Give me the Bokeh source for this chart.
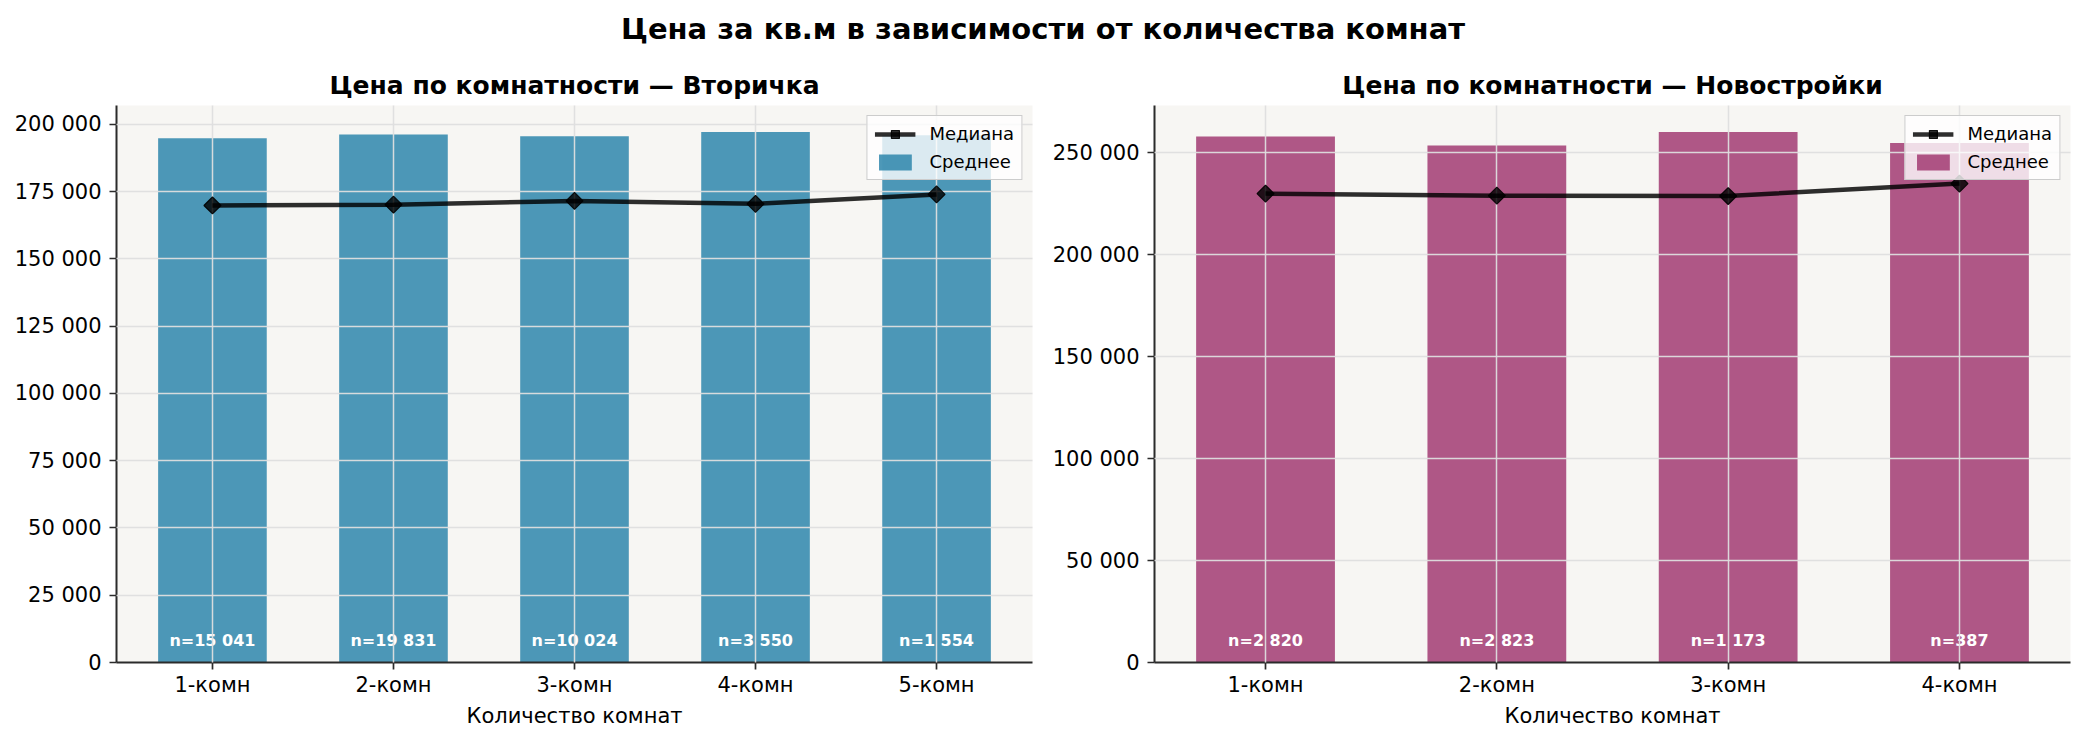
import math
from bokeh.plotting import figure
from bokeh.models import Range1d, FixedTicker, Legend, LegendItem, Plot, Label
from bokeh.layouts import column, row
from bokeh.embed import file_html
from bokeh.resources import INLINE
from bokeh.core.properties import value

suptitle = "Цена за кв.м в зависимости от количества комнат"
x_label = "Количество комнат"
legend_median = "Медиана"
legend_mean = "Среднее"

sec_title = "Цена по комнатности — Вторичка"
sec_rooms = ["1-комн", "2-комн", "3-комн", "4-комн", "5-комн"]
sec_mean = [194900, 196300, 195600, 197200, 196000]
sec_median = [169900, 170200, 171600, 170500, 174000]
sec_count = [15041, 19831, 10024, 3550, 1554]
sec_yticks = [0, 25000, 50000, 75000, 100000, 125000, 150000, 175000, 200000]

new_title = "Цена по комнатности — Новостройки"
new_rooms = ["1-комн", "2-комн", "3-комн", "4-комн"]
new_mean = [258000, 253600, 260200, 254800]
new_median = [230000, 229000, 228800, 234900]
new_count = [2820, 2823, 1173, 387]
new_yticks = [0, 50000, 100000, 150000, 200000, 250000]

FONT = "DejaVu Sans"
BG = "#F7F6F3"
SPINE = "#2b2b2b"


def fmt(v):
    return f"{v:,}".replace(",", " ")


def panel(title, rooms, means, medians, counts, yticks, color, lb, rb):
    n = len(rooms)
    xs = list(range(n))
    span = (n - 1) + 0.6
    xr = Range1d(-0.3 - 0.05 * span, n - 1 + 0.3 + 0.05 * span)
    yr = Range1d(0, max(means) * 1.05)
    p = figure(frame_width=916, frame_height=557, x_range=xr, y_range=yr,
               toolbar_location=None, output_backend="svg",
               min_border_left=lb, min_border_right=rb,
               min_border_top=47, min_border_bottom=78)
    p.background_fill_color = BG
    p.border_fill_color = "white"
    p.outline_line_color = None

    p.title.text = title
    p.title.align = "center"
    p.title.text_font = FONT
    p.title.text_font_size = "25px"
    p.title.text_font_style = "bold"
    p.title.text_color = "black"
    p.title.standoff = 11

    bars = p.vbar(x=xs, top=means, width=0.6, fill_color=color, fill_alpha=0.85,
                  line_color=None)
    p.text(x=xs, y=[0] * n, text=[f"n={fmt(c)}" for c in counts],
           text_font=value(FONT), text_font_size="16px", text_font_style="bold",
           text_color="white", text_align="center", text_baseline="bottom",
           y_offset=-13)
    ln = p.line(x=xs, y=medians, line_color="black", line_alpha=0.82, line_width=4.5,
                level="annotation")
    mk = p.scatter(x=xs, y=medians, marker="square", size=12, angle=math.pi / 4,
                   fill_color="black", fill_alpha=0.82, line_color="black",
                   line_alpha=0.9, line_width=1.2, level="annotation")

    p.xaxis.ticker = FixedTicker(ticks=xs)
    p.xaxis.major_label_overrides = {i: r for i, r in enumerate(rooms)}
    p.yaxis.ticker = FixedTicker(ticks=yticks)
    p.yaxis.major_label_overrides = {t: fmt(t) for t in yticks}
    p.xaxis.axis_label = x_label

    for ax in (p.xaxis, p.yaxis):
        ax.axis_line_color = SPINE
        ax.axis_line_width = 2
        ax.major_tick_line_color = SPINE
        ax.major_tick_line_width = 1.7
        ax.major_tick_out = 7
        ax.major_tick_in = 0
        ax.minor_tick_line_color = None
        ax.major_label_text_font = FONT
        ax.major_label_text_font_size = "21px"
        ax.major_label_text_color = "black"
        ax.axis_label_text_font = FONT
        ax.axis_label_text_font_size = "21px"
        ax.axis_label_text_font_style = "normal"
        ax.axis_label_text_color = "black"
    p.xaxis.major_label_standoff = 3
    p.yaxis.major_label_standoff = 8
    p.xaxis.axis_label_standoff = 4

    for g in (p.xgrid, p.ygrid):
        g.grid_line_color = "#DEDEDE"
        g.grid_line_width = 1.5
        g.grid_line_alpha = 0.95
        g.level = "guide"
    p.xgrid.ticker = FixedTicker(ticks=xs)
    p.ygrid.ticker = FixedTicker(ticks=yticks)

    legend = Legend(items=[LegendItem(label=legend_median, renderers=[ln, mk]),
                           LegendItem(label=legend_mean, renderers=[bars])],
                    location="top_right", margin=10, padding=7, spacing=7,
                    glyph_width=41, glyph_height=20, label_height=20,
                    label_standoff=14, label_text_font=FONT,
                    label_text_font_size="18px", label_text_color="black",
                    background_fill_color="white", background_fill_alpha=0.8,
                    border_line_color="#CCCCCC", border_line_width=1.5,
                    border_line_alpha=1.0)
    p.add_layout(legend)
    return p


p1 = panel(sec_title, sec_rooms, sec_mean, sec_median, sec_count, sec_yticks,
           "#2E86AB", 116, 10)
p2 = panel(new_title, new_rooms, new_mean, new_median, new_count, new_yticks,
           "#A23B72", 112, 15)

header = Plot(width=2085, height=58, min_border=0, toolbar_location=None,
              outline_line_color=None, output_backend="svg",
              x_range=Range1d(0, 1), y_range=Range1d(0, 1))
header.add_layout(Label(x=1042.5, y=30, x_units="screen", y_units="screen",
                        text=suptitle, text_align="center", text_baseline="middle",
                        text_font=FONT, text_font_size="29px",
                        text_font_style="bold", text_color="black"))

layout = column(header, row(p1, p2, spacing=0), spacing=0)

with open("out.html", "w") as f:
    f.write(file_html(layout, INLINE))
